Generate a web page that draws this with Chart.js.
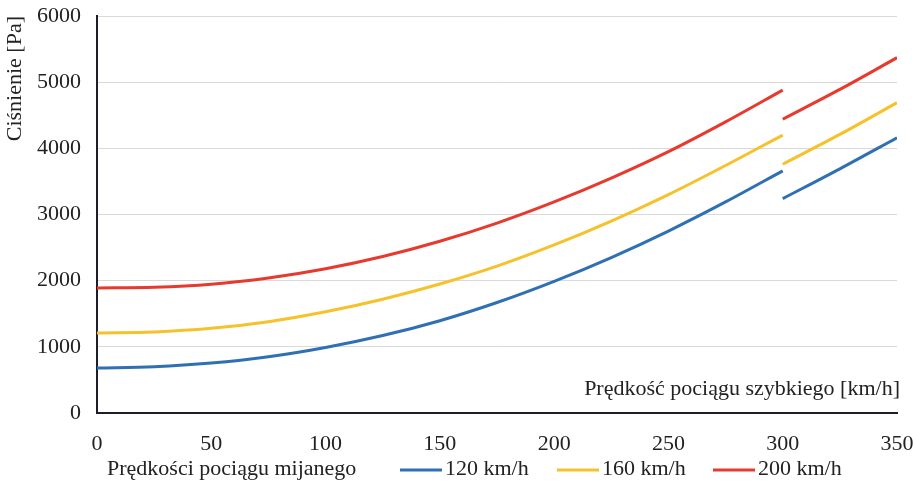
<!DOCTYPE html>
<html>
<head>
<meta charset="utf-8">
<script src="https://cdn.jsdelivr.net/npm/chart.js@4.4.1/dist/chart.umd.min.js"></script>
<style>
  html, body { margin: 0; padding: 0; background: #fff; }
  #wrap { width: 913px; height: 489px; position: relative; }
</style>
</head>
<body>
<div id="wrap"><canvas id="chart"></canvas></div>
<script>
// prędkość pociągu szybkiego [km/h]
const speedA = [0, 25, 50, 75, 100, 125, 150, 175, 200, 225, 250, 275, 300];
const speedB = [300, 325, 350];

// ciśnienie [Pa]
const p120a = [680, 700, 755, 850, 990, 1170, 1395, 1670, 1990, 2350, 2750, 3190, 3660];
const p160a = [1210, 1225, 1280, 1380, 1530, 1720, 1950, 2220, 2540, 2900, 3300, 3740, 4200];
const p200a = [1890, 1900, 1945, 2040, 2180, 2365, 2595, 2870, 3190, 3550, 3950, 4400, 4880];
const p120b = [3240, 3690, 4160];
const p160b = [3760, 4210, 4690];
const p200b = [4440, 4890, 5370];

const seriesNames = ["120 km/h", "160 km/h", "200 km/h"];
const colors = ["#2f70b4", "#f6c22b", "#e63a2e"];
const yTicks = [0, 1000, 2000, 3000, 4000, 5000, 6000];
const xTicks = [0, 50, 100, 150, 200, 250, 300, 350];

const FONT = "'Liberation Serif', 'Times New Roman', serif";
const INK = "#222222";

function pts(xs, ys) {
  return xs.map((x, i) => ({ x: x, y: ys[i] }));
}

function ds(label, data, color) {
  return {
    label: label,
    data: data,
    borderColor: color,
    backgroundColor: color,
    borderWidth: 3,
    pointRadius: 0,
    cubicInterpolationMode: "monotone",
    fill: false
  };
}

// legenda i opis osi X rysowane ręcznie
const extraText = {
  id: "extraText",
  afterDraw(chart) {
    const ctx = chart.ctx;
    const area = chart.chartArea;
    ctx.save();
    ctx.fillStyle = INK;
    ctx.font = "22px " + FONT;
    ctx.textBaseline = "middle";
    ctx.textAlign = "right";
    ctx.fillText("Prędkość pociągu szybkiego [km/h]", area.right + 3, 389);

    const ly = 469;
    ctx.textAlign = "left";
    ctx.fillText("Prędkości pociągu mijanego", 107, ly);
    const itemX = [400, 557, 713];
    for (let i = 0; i < 3; i++) {
      ctx.strokeStyle = colors[i];
      ctx.lineWidth = 3;
      ctx.beginPath();
      ctx.moveTo(itemX[i], ly + 1);
      ctx.lineTo(itemX[i] + 42, ly + 1);
      ctx.stroke();
      ctx.fillStyle = INK;
      ctx.fillText(seriesNames[i], itemX[i] + 45, ly);
    }
    ctx.restore();
  }
};

new Chart(document.getElementById("chart"), {
  type: "line",
  data: {
    datasets: [
      ds(seriesNames[0], pts(speedA, p120a), colors[0]),
      ds(seriesNames[1], pts(speedA, p160a), colors[1]),
      ds(seriesNames[2], pts(speedA, p200a), colors[2]),
      ds(seriesNames[0], pts(speedB, p120b), colors[0]),
      ds(seriesNames[1], pts(speedB, p160b), colors[1]),
      ds(seriesNames[2], pts(speedB, p200b), colors[2])
    ]
  },
  options: {
    responsive: true,
    maintainAspectRatio: false,
    animation: false,
    layout: { padding: { top: 16, right: 16, bottom: 36, left: 0 } },
    plugins: {
      legend: { display: false },
      tooltip: { enabled: false }
    },
    scales: {
      x: {
        type: "linear",
        min: 0,
        max: 350,
        afterFit(scale) {
          scale.height = 40;
          scale.paddingLeft = 0;
          scale.paddingRight = 0;
        },
        afterBuildTicks(scale) { scale.ticks = xTicks.map(v => ({ value: v })); },
        grid: { display: false },
        border: { display: true, color: "#1d1d2b", width: 2 },
        ticks: {
          color: INK, font: { family: FONT, size: 22 }, padding: 10, maxRotation: 0,
          callback: v => String(v)
        }
      },
      y: {
        min: 0,
        max: 6000,
        afterFit(scale) {
          scale.width = 97;
          scale.paddingTop = 0;
          scale.paddingBottom = 0;
        },
        afterBuildTicks(scale) { scale.ticks = yTicks.map(v => ({ value: v })); },
        grid: { color: "#d9d9d9", lineWidth: 1, drawTicks: false },
        border: { display: true, color: "#1d1d2b", width: 2 },
        ticks: {
          color: INK, font: { family: FONT, size: 22 }, padding: 16,
          callback: v => String(v)
        },
        title: {
          display: true,
          text: "Ciśnienie [Pa]",
          align: "end",
          color: INK,
          font: { family: FONT, size: 22 },
          padding: { top: 2, bottom: 0 }
        }
      }
    }
  },
  plugins: [extraText]
});
</script>
</body>
</html>
